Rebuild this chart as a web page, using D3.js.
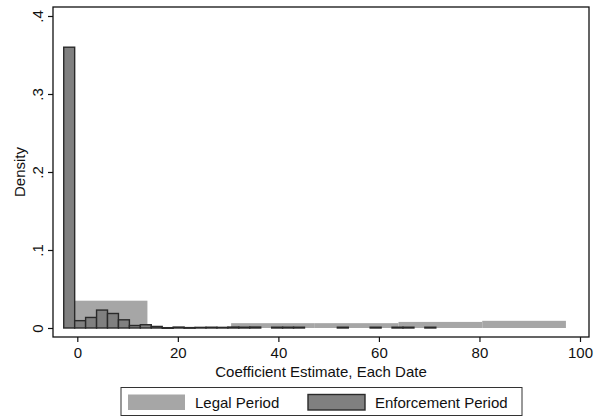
<!DOCTYPE html>
<html>
<head>
    <title>Coefficient histogram</title>
    <meta http-equiv="content-type" content="text/html; charset=UTF-8">
    <script type="text/javascript" src="https://cdn.jsdelivr.net/npm/d3@7"></script>
</head>
<body style="margin:0;background:#fff">

<style>
    text {
        font-family: "Liberation Sans", Arial, sans-serif;
        font-size: 15px;
        fill: #111;
    }
</style>

<script type="text/javascript">
    // legal period: wide bins
    var legalStart = -2.70,
        legalWidth = 16.65;
    var legalDensity = [0.035, 0.0004, 0.0062, 0.0062, 0.0078, 0.0092];

    // enforcement period: narrow bins
    var enfStart = -2.70,
        enfWidth = 2.177;
    var enfDensity = [0.360, 0.0094, 0.0135, 0.0230, 0.0186, 0.0105, 0.0032, 0.0042, 0.0020,
        0.0004, 0.0012, 0.0005, 0.0008, 0.0010, 0.0008, 0.0012, 0.0010, 0.0012, 0,
        0.0010, 0.0010, 0.0010, 0, 0, 0, 0.0010, 0, 0, 0.0010, 0, 0.0010, 0.0010, 0, 0.0010];

    var xTicks = [0, 20, 40, 60, 80, 100];
    var yTicks = [0, 0.1, 0.2, 0.3, 0.4];
    var yTickLabels = ["0", ".1", ".2", ".3", ".4"];
    var series = ["Legal Period", "Enforcement Period"];

    var width = 595, height = 419;
    var frame = {left: 53, top: 7, right: 589, bottom: 337};

    var x = d3.scaleLinear().domain([0, 100]).range([77.3, 580]);
    var y = d3.scaleLinear().domain([0, 0.4]).range([328, 16]);

    var legalFill = "#a6a6a6",
        enfFill = "#808080",
        enfStroke = "#2a2a2a";

    var svg = d3.select("body").append("svg")
        .attr("width", width)
        .attr("height", height);

    function bins(start, w, vals) {
        return vals.map(function (v, i) {
            return {x0: start + i * w, x1: start + (i + 1) * w, v: v};
        }).filter(function (d) { return d.v > 0; });
    }

    // legal bars
    svg.append("g").selectAll("rect")
        .data(bins(legalStart, legalWidth, legalDensity))
        .enter().append("rect")
        .attr("x", function (d) { return x(d.x0); })
        .attr("width", function (d) { return x(d.x1) - x(d.x0); })
        .attr("y", function (d) { return y(d.v); })
        .attr("height", function (d) { return y(0) - y(d.v); })
        .attr("fill", legalFill);

    // enforcement bars
    svg.append("g").selectAll("rect")
        .data(bins(enfStart, enfWidth, enfDensity))
        .enter().append("rect")
        .attr("x", function (d) { return x(d.x0); })
        .attr("width", function (d) { return x(d.x1) - x(d.x0); })
        .attr("y", function (d) { return y(d.v); })
        .attr("height", function (d) { return Math.max(y(0) - y(d.v), 0.6); })
        .attr("fill", enfFill)
        .attr("stroke", enfStroke)
        .attr("stroke-width", 1.4);

    // frame
    svg.append("rect")
        .attr("x", frame.left).attr("y", frame.top)
        .attr("width", frame.right - frame.left)
        .attr("height", frame.bottom - frame.top)
        .attr("fill", "none")
        .attr("stroke", "#111")
        .attr("stroke-width", 1.3);

    // x axis
    var xAxis = d3.axisBottom(x).tickValues(xTicks).tickSize(5).tickPadding(5)
        .tickFormat(d3.format("d"));
    var gx = svg.append("g")
        .attr("transform", "translate(0," + frame.bottom + ")")
        .call(xAxis);
    gx.select(".domain").remove();
    gx.selectAll("line").attr("stroke", "#111").attr("stroke-width", 1.2);
    gx.selectAll("text").attr("font-size", 15).attr("fill", "#111")
        .style("font-family", "'Liberation Sans', Arial, sans-serif");

    svg.append("text")
        .attr("x", (frame.left + frame.right) / 2)
        .attr("y", 377)
        .attr("text-anchor", "middle")
        .text("Coefficient Estimate, Each Date");

    // y axis
    var yAxis = d3.axisLeft(y).tickValues(yTicks).tickSize(5).tickPadding(0)
        .tickFormat(function (d, i) { return yTickLabels[i]; });
    var gy = svg.append("g")
        .attr("transform", "translate(" + frame.left + ",0)")
        .call(yAxis);
    gy.select(".domain").remove();
    gy.selectAll("line").attr("stroke", "#111").attr("stroke-width", 1.2);
    gy.selectAll("text")
        .attr("x", 0).attr("dy", 0)
        .attr("font-size", 15).attr("fill", "#111")
        .style("font-family", "'Liberation Sans', Arial, sans-serif")
        .attr("text-anchor", "middle")
        .attr("transform", "translate(-10,0) rotate(-90)");

    svg.append("text")
        .attr("transform", "translate(25," + y(0.2) + ") rotate(-90)")
        .attr("text-anchor", "middle")
        .text("Density");

    // legend
    var legend = svg.append("g");
    legend.append("rect")
        .attr("x", 121).attr("y", 387.5)
        .attr("width", 401).attr("height", 28)
        .attr("fill", "#fff")
        .attr("stroke", "#333")
        .attr("stroke-width", 1);
    var items = legend.selectAll("g.item")
        .data(series)
        .enter().append("g")
        .attr("class", "item")
        .attr("transform", function (d, i) { return "translate(" + [128, 308][i] + ",394.5)"; });
    items.append("rect")
        .attr("width", 57).attr("height", 15.5)
        .attr("fill", function (d, i) { return i === 0 ? legalFill : enfFill; })
        .attr("stroke", function (d, i) { return i === 0 ? "none" : enfStroke; })
        .attr("stroke-width", 1.4);
    items.append("text")
        .attr("x", 67).attr("y", 13.5)
        .text(function (d) { return d; });
</script>
</body>
</html>
